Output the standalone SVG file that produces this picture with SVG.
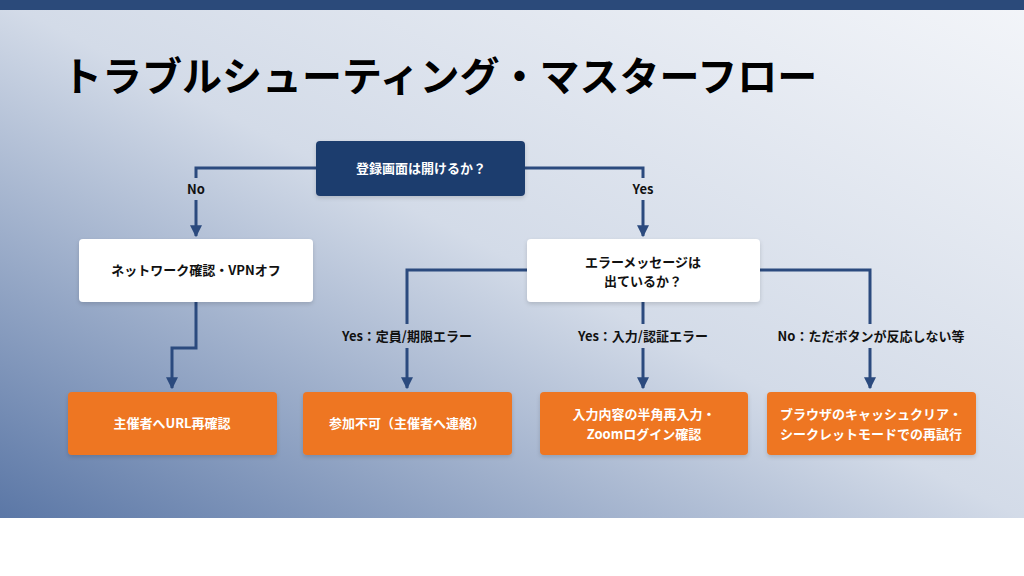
<svg xmlns="http://www.w3.org/2000/svg" width="1024" height="576" viewBox="0 0 1024 576">
<defs>
<linearGradient id="bg" x1="1" y1="0" x2="0" y2="1">
<stop offset="0" stop-color="#f3f5f9"/>
<stop offset="0.5" stop-color="#d3dbe8"/>
<stop offset="1" stop-color="#5b77a6"/>
</linearGradient>
<marker id="ah" viewBox="0 0 10 10" refX="9" refY="5" markerWidth="4" markerHeight="4" orient="auto-start-reverse" markerUnits="strokeWidth">
<path d="M0,0 L10,5 L0,10 z" fill="#2b4a7e"/>
</marker>
<filter id="sh" x="-10%" y="-10%" width="130%" height="140%"><feDropShadow dx="0" dy="2" stdDeviation="2" flood-opacity="0.15"/></filter>
</defs>
<style>
text{font-family:"Noto Sans CJK JP","Noto Sans",sans-serif;font-weight:bold;text-anchor:middle}
.lbl{font-size:13px;fill:#111}
.wt{font-size:13px;fill:#111}
.ot{font-size:13px;fill:#fff}
.c{fill:none;stroke:#2b4a7e;stroke-width:3}
.white{fill:#fff}
.org{fill:#ee7623}
</style>
<rect width="1024" height="576" fill="#fff"/>
<rect width="1024" height="518" fill="url(#bg)"/>
<rect width="1024" height="10" fill="#2b4a7a"/>
<text x="62" y="91" style="font-size:40px;text-anchor:start;fill:#000">トラブルシューティング・マスターフロー</text>
<g id="connectors">
<path class="c" d="M316,168 H196 V178"/>
<path class="c" d="M196,200 V236" marker-end="url(#ah)"/>
<path class="c" d="M525,168 H643 V178"/>
<path class="c" d="M643,200 V236" marker-end="url(#ah)"/>
<path class="c" d="M196,302 V348 H172 V388" marker-end="url(#ah)"/>
<path class="c" d="M527,270 H407 V324"/>
<path class="c" d="M407,348 V388" marker-end="url(#ah)"/>
<path class="c" d="M643,302 V324"/>
<path class="c" d="M643,348 V388" marker-end="url(#ah)"/>
<path class="c" d="M760,270 H870 V324"/>
<path class="c" d="M870,348 V388" marker-end="url(#ah)"/>
<text class="lbl" x="196" y="194">No</text>
<text class="lbl" x="643" y="194">Yes</text>
<text class="lbl" x="407" y="341">Yes：定員/期限エラー</text>
<text class="lbl" x="643" y="341">Yes：入力/認証エラー</text>
<text class="lbl" x="871" y="341">No：ただボタンが反応しない等</text>
</g>
<g id="n-start"><rect x="316" y="141" width="209" height="55" rx="4" fill="#1f3d6e" filter="url(#sh)"/><text class="ot" x="421" y="173">登録画面は開けるか？</text></g>
<g id="n-network"><rect class="white" x="79" y="239" width="234" height="63" rx="4" filter="url(#sh)"/><text class="wt" x="196" y="275">ネットワーク確認・VPNオフ</text></g>
<g id="n-error"><rect class="white" x="527" y="239" width="233" height="63" rx="4" filter="url(#sh)"/><text class="wt" x="643" y="267">エラーメッセージは</text><text class="wt" x="643" y="286">出ているか？</text></g>
<g id="n-url"><rect class="org" x="68" y="392" width="209" height="63" rx="4" filter="url(#sh)"/><text class="ot" x="172" y="428">主催者へURL再確認</text></g>
<g id="n-contact"><rect class="org" x="303" y="392" width="209" height="63" rx="4" filter="url(#sh)"/><text class="ot" x="407" y="428">参加不可（主催者へ連絡）</text></g>
<g id="n-input"><rect class="org" x="540" y="392" width="208" height="63" rx="4" filter="url(#sh)"/><text class="ot" x="644" y="419">入力内容の半角再入力・</text><text class="ot" x="644" y="439">Zoomログイン確認</text></g>
<g id="n-cache"><rect class="org" x="767" y="392" width="209" height="63" rx="4" filter="url(#sh)"/><text class="ot" x="871" y="419">ブラウザのキャッシュクリア・</text><text class="ot" x="871" y="439">シークレットモードでの再試行</text></g>
</svg>
